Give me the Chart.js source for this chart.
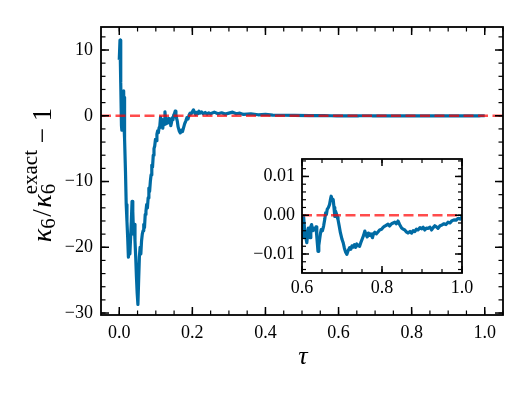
<!DOCTYPE html>
<html>
<head>
<meta charset="utf-8">
<script src="https://cdn.jsdelivr.net/npm/chart.js@4.4.1/dist/chart.umd.min.js"></script>
<style>
  body { margin: 0; background: #fff; }
  #wrap { position: relative; width: 532px; height: 399px; }
  #main { position: absolute; left: 0; top: 0; }
  #inset { position: absolute; left: 220px; top: 140px; }
</style>
</head>
<body>
<div id="wrap">
  <canvas id="main" width="532" height="399"></canvas>
  <canvas id="inset" width="270" height="160"></canvas>
</div>
<script>
// ---- data ----
// early transient, tau in [0, 0.6)
const tauHead = [0.000, 0.002, 0.004, 0.006, 0.007, 0.008, 0.009, 0.010, 0.011, 0.012, 0.013, 0.014, 0.015,
  0.017, 0.019, 0.021, 0.023, 0.025, 0.027, 0.029, 0.031, 0.033, 0.035, 0.037, 0.039, 0.041, 0.043, 0.045,
  0.047, 0.049, 0.051, 0.053, 0.055, 0.057, 0.059, 0.061, 0.063, 0.065, 0.067, 0.069, 0.071, 0.073, 0.075,
  0.077, 0.079, 0.081, 0.083, 0.085, 0.087, 0.089, 0.091, 0.093, 0.095, 0.097, 0.099, 0.101, 0.103, 0.105,
  0.107, 0.109, 0.111, 0.113, 0.115, 0.117, 0.119, 0.121, 0.123, 0.125, 0.127, 0.129, 0.131, 0.133, 0.135,
  0.137, 0.139, 0.141, 0.143, 0.145, 0.147, 0.149, 0.151, 0.153, 0.155, 0.157, 0.159, 0.161, 0.164, 0.167,
  0.170, 0.173, 0.176, 0.179, 0.182, 0.185, 0.188, 0.191, 0.194, 0.197, 0.200, 0.203, 0.206, 0.209, 0.212,
  0.215, 0.218, 0.221, 0.225, 0.230, 0.235, 0.240, 0.245, 0.250, 0.260, 0.270, 0.280, 0.290, 0.300, 0.310,
  0.320, 0.330, 0.340, 0.360, 0.380, 0.400, 0.420, 0.450, 0.480, 0.520, 0.560, 0.580, 0.595];
const kappaHead = [8.5, 11.5, 5.0, -1.5, -2.2, 2.5, -1.0, 3.5, 0.5, 3.8, -1.5, 2.8, -3.5,
  -8.5, -13.5, -16.0, -18.5, -21.5, -19.0, -21.0, -18.5, -16.0, -13.0, -14.5, -18.0, -16.5, -19.0, -21.5,
  -24.5, -27.0, -28.7, -25.0, -21.5, -20.0, -21.0, -19.0, -18.0, -17.5, -16.5, -17.0, -15.0, -14.5, -13.5,
  -14.0, -12.5, -11.0, -11.5, -10.0, -9.0, -7.5, -7.8, -6.0, -5.0, -4.6, -3.6, -3.8, -2.8, -2.3,
  -2.6, -1.8, -1.5, -0.2, -1.7, -0.6, -1.9, -0.8, -1.3, 0.6, -0.8, -1.2, -0.5, -1.1, -0.4,
  -0.9, -0.5, -1.5, -1.0, -0.3, -0.6, 0.1, 0.3, 0.7, 0.2, -0.4, -0.9, -1.7, -2.3, -2.6,
  -2.2, -2.4, -1.8, -1.2, -0.8, -0.3, -0.5, 0.1, 0.4, 0.3, 0.6, 0.9, 0.5, 0.2, 0.5,
  0.3, 0.7, 0.4, 0.6, 0.3, 0.5, 0.25, 0.45, 0.3, 0.55, 0.3, 0.45, 0.25, 0.4, 0.55,
  0.3, 0.4, 0.2, 0.3, 0.15, 0.2, 0.1, 0.08, 0.05, 0.03, 0.01, 0.002, -0.004];

// late tail, tau in [0.6, 1.0] (what the inset zooms into)
const tauTail = [0.600, 0.602, 0.604, 0.606, 0.608, 0.610, 0.612, 0.614, 0.616, 0.618, 0.620, 0.622, 0.624,
  0.627, 0.630, 0.633, 0.635, 0.637, 0.640, 0.642, 0.644, 0.646, 0.648, 0.651, 0.654, 0.657, 0.659, 0.661,
  0.663, 0.666, 0.669, 0.671, 0.673, 0.675, 0.678, 0.680, 0.682, 0.684, 0.686, 0.688, 0.690, 0.693, 0.696,
  0.700, 0.703, 0.706, 0.709, 0.712, 0.715, 0.719, 0.722, 0.725, 0.728, 0.731, 0.734, 0.737, 0.740, 0.744,
  0.748, 0.751, 0.754, 0.757, 0.760, 0.763, 0.766, 0.769, 0.772, 0.776, 0.779, 0.782, 0.786, 0.790, 0.794,
  0.799, 0.803, 0.807, 0.811, 0.815, 0.819, 0.824, 0.828, 0.832, 0.836, 0.840, 0.844, 0.849, 0.853, 0.857,
  0.861, 0.865, 0.870, 0.874, 0.878, 0.882, 0.886, 0.890, 0.895, 0.899, 0.903, 0.907, 0.911, 0.915, 0.920,
  0.924, 0.928, 0.932, 0.936, 0.940, 0.945, 0.950, 0.955, 0.960, 0.965, 0.970, 0.975, 0.980, 0.985, 0.990,
  0.995, 1.000];
const kappaTail = [-0.0058, -0.0040, -0.0003, -0.0030, -0.0045, -0.0060, -0.0071, -0.0050, -0.0033, -0.0052, -0.0058, -0.0030, -0.0024,
  -0.0040, -0.0034, -0.0038, -0.0030, -0.0055, -0.0093, -0.0078, -0.0063, -0.0048, -0.0037, -0.0040, -0.0028, -0.0010, 0.0006, 0.0002,
  0.0015, 0.0020, 0.0028, 0.0040, 0.0049, 0.0042, 0.0040, 0.0020, -0.0003, 0.0010, 0.0004, -0.0005, -0.0011, -0.0028, -0.0045,
  -0.0062, -0.0071, -0.0085, -0.0095, -0.0101, -0.0092, -0.0084, -0.0088, -0.0079, -0.0082, -0.0076, -0.0083, -0.0074, -0.0078, -0.0080,
  -0.0068, -0.0060, -0.0052, -0.0041, -0.0050, -0.0056, -0.0046, -0.0052, -0.0048, -0.0058, -0.0047, -0.0044, -0.0048, -0.0043, -0.0038,
  -0.0036, -0.0031, -0.0028, -0.0026, -0.0023, -0.0028, -0.0022, -0.0020, -0.0018, -0.0022, -0.0015, -0.0024, -0.0033, -0.0036, -0.0038,
  -0.0043, -0.0046, -0.0042, -0.0046, -0.0040, -0.0042, -0.0036, -0.0038, -0.0032, -0.0035, -0.0031, -0.0038, -0.0033, -0.0034, -0.0031,
  -0.0038, -0.0032, -0.0027, -0.0030, -0.0034, -0.0027, -0.0025, -0.0022, -0.0024, -0.0018, -0.0020, -0.0014, -0.0012, -0.0013, -0.0008,
  -0.0010, -0.0004];

// tick labels
const mainXTicks = [0.0, 0.2, 0.4, 0.6, 0.8, 1.0];
const mainYTicks = [-30, -20, -10, 0, 10];
const insetXTicks = [0.6, 0.8, 1.0];
const insetYTicks = [-0.01, 0.0, 0.01];

const BLUE = '#006BA4';
const RED = 'rgba(255, 0, 0, 0.7)';
const FONT = '"Liberation Serif", "Times New Roman", serif';

Chart.defaults.font.family = FONT;
Chart.defaults.color = '#000';
Chart.defaults.animation = false;

function toPoints(xs, ys) {
    return xs.map((x, i) => ({ x: x, y: ys[i] }));
}

function minus(str) {
    return str.replace('-', '\u2212');
}

function range(from, to, step) {
    let out = [];
    for (let v = from; v <= to + step / 1000; v += step) out.push(+v.toFixed(6));
    return out;
}

// white plot background, black frame and inward ticks on all four sides
const framePlugin = {
    id: 'frame',
    beforeDraw(chart) {
        const a = chart.chartArea;
        chart.ctx.save();
        chart.ctx.fillStyle = '#fff';
        chart.ctx.fillRect(a.left, a.top, a.right - a.left, a.bottom - a.top);
        chart.ctx.restore();
    },
    afterDraw(chart, args, opts) {
        const ctx = chart.ctx;
        const a = chart.chartArea;
        const xs = chart.scales.x, ys = chart.scales.y;
        ctx.save();
        ctx.strokeStyle = '#000';
        ctx.lineCap = 'butt';

        function seg(x1, y1, x2, y2) {
            ctx.beginPath();
            ctx.moveTo(x1, y1);
            ctx.lineTo(x2, y2);
            ctx.stroke();
        }
        function xTicks(vals, len) {
            vals.forEach(v => {
                const p = xs.getPixelForValue(v);
                if (p < a.left - 0.5 || p > a.right + 0.5) return;
                seg(p, a.bottom, p, a.bottom - len);
                seg(p, a.top, p, a.top + len);
            });
        }
        function yTicks(vals, len) {
            vals.forEach(v => {
                const p = ys.getPixelForValue(v);
                if (p < a.top - 0.5 || p > a.bottom + 0.5) return;
                seg(a.left, p, a.left + len, p);
                seg(a.right, p, a.right - len, p);
            });
        }
        ctx.lineWidth = 1.2;
        xTicks(opts.xMinor, opts.minorLen);
        yTicks(opts.yMinor, opts.minorLen);
        ctx.lineWidth = 1.5;
        xTicks(opts.xMajor, opts.majorLen);
        yTicks(opts.yMajor, opts.majorLen);

        ctx.lineWidth = 1.8;
        ctx.strokeRect(a.left, a.top, a.right - a.left, a.bottom - a.top);
        ctx.restore();
    }
};

// axis titles of the main panel: tau and kappa_6 / kappa_6^exact - 1
const titlesPlugin = {
    id: 'titles',
    afterDraw(chart) {
        const ctx = chart.ctx;
        ctx.save();
        ctx.fillStyle = '#000';
        ctx.textBaseline = 'alphabetic';

        ctx.font = 'italic 26px ' + FONT;
        ctx.textAlign = 'center';
        ctx.fillText('\u03c4', 303, 364);

        const big = '27px ' + FONT;
        const bigIt = 'italic 28px ' + FONT;
        const small = '21px ' + FONT;
        ctx.textAlign = 'left';
        ctx.translate(51, 175);
        ctx.rotate(-Math.PI / 2);

        const parts = [
            { t: '\u03ba', f: bigIt, dy: 0 },
            { t: '6', f: small, dy: 4 },
            { t: '/', f: big, dy: 0, pad: 3 },
            { t: '\u03ba', f: bigIt, dy: 0 },
            { stack: [{ t: '6', f: small, dy: 4 }, { t: 'exact', f: small, dy: -14 }] },
            { t: ' \u2212 1', f: big, dy: 0 }
        ];
        function width(p) {
            if (p.stack) return Math.max(...p.stack.map(width));
            ctx.font = p.f;
            return ctx.measureText(p.t).width + (p.pad || 0);
        }
        const total = parts.reduce((s, p) => s + width(p), 0);
        let x = -total / 2;
        parts.forEach(p => {
            const w = width(p);
            const items = p.stack ? p.stack : [p];
            items.forEach(it => {
                ctx.font = it.f;
                ctx.fillText(it.t, x + (p.pad ? p.pad / 2 : 0), it.dy);
            });
            x += w;
        });
        ctx.restore();
    }
};

// ---- main panel ----
new Chart(document.getElementById('main'), {
    type: 'line',
    data: {
        datasets: [
            {
                data: [{ x: -0.05, y: 0 }, { x: 1.05, y: 0 }],
                borderColor: RED,
                borderWidth: 2.5,
                borderDash: [10, 4.5],
                pointRadius: 0,
                order: 0
            },
            {
                data: toPoints(tauHead.concat(tauTail), kappaHead.concat(kappaTail)),
                borderColor: BLUE,
                borderWidth: 3.2,
                borderJoinStyle: 'round',
                pointRadius: 0,
                tension: 0,
                order: 1
            }
        ]
    },
    options: {
        responsive: false,
        layout: { padding: { left: 0, right: 29, top: 27, bottom: 0 } },
        plugins: {
            legend: { display: false },
            tooltip: { enabled: false },
            frame: {
                xMajor: mainXTicks,
                xMinor: range(0, 1.05, 0.05),
                yMajor: mainYTicks,
                yMinor: range(-30, 12, 2),
                majorLen: 8,
                minorLen: 4.5
            }
        },
        scales: {
            x: {
                type: 'linear',
                min: -0.05,
                max: 1.05,
                grid: { display: false, drawTicks: false },
                border: { display: false },
                afterBuildTicks: s => { s.ticks = mainXTicks.map(v => ({ value: v })); },
                afterFit: s => { s.height = 84; },
                ticks: {
                    padding: 7,
                    maxRotation: 0,
                    font: { size: 18 },
                    callback: v => minus(v.toFixed(1))
                }
            },
            y: {
                min: -30.3,
                max: 13.5,
                grid: { display: false, drawTicks: false },
                border: { display: false },
                afterBuildTicks: s => { s.ticks = mainYTicks.map(v => ({ value: v })); },
                afterFit: s => { s.width = 101; },
                ticks: {
                    padding: 8,
                    font: { size: 18 },
                    callback: v => minus(String(v))
                }
            }
        }
    },
    plugins: [framePlugin, titlesPlugin]
});

// ---- inset: zoom on tau in [0.6, 1.0] ----
new Chart(document.getElementById('inset'), {
    type: 'line',
    data: {
        datasets: [
            {
                data: [{ x: 0.6, y: 0 }, { x: 1.0, y: 0 }],
                borderColor: RED,
                borderWidth: 2.5,
                borderDash: [10, 4.5],
                pointRadius: 0,
                order: 0
            },
            {
                data: toPoints(tauTail, kappaTail),
                borderColor: BLUE,
                borderWidth: 3.2,
                borderJoinStyle: 'round',
                pointRadius: 0,
                tension: 0,
                order: 1
            }
        ]
    },
    options: {
        responsive: false,
        layout: { padding: { left: 0, right: 28, top: 19, bottom: 0 } },
        plugins: {
            legend: { display: false },
            tooltip: { enabled: false },
            frame: {
                xMajor: insetXTicks,
                xMinor: range(0.6, 1.0, 0.05),
                yMajor: insetYTicks,
                yMinor: range(-0.014, 0.014, 0.002),
                majorLen: 7,
                minorLen: 4
            }
        },
        scales: {
            x: {
                type: 'linear',
                min: 0.6,
                max: 1.0,
                grid: { display: false, drawTicks: false },
                border: { display: false },
                afterBuildTicks: s => { s.ticks = insetXTicks.map(v => ({ value: v })); },
                afterFit: s => { s.height = 27; },
                ticks: {
                    padding: 4,
                    maxRotation: 0,
                    font: { size: 18 },
                    callback: v => v.toFixed(1)
                }
            },
            y: {
                min: -0.0149,
                max: 0.0145,
                grid: { display: false, drawTicks: false },
                border: { display: false },
                afterBuildTicks: s => { s.ticks = insetYTicks.map(v => ({ value: v })); },
                afterFit: s => { s.width = 82; },
                ticks: {
                    padding: 7,
                    font: { size: 18 },
                    callback: v => minus(v.toFixed(2))
                }
            }
        }
    },
    plugins: [framePlugin]
});
</script>
</body>
</html>
